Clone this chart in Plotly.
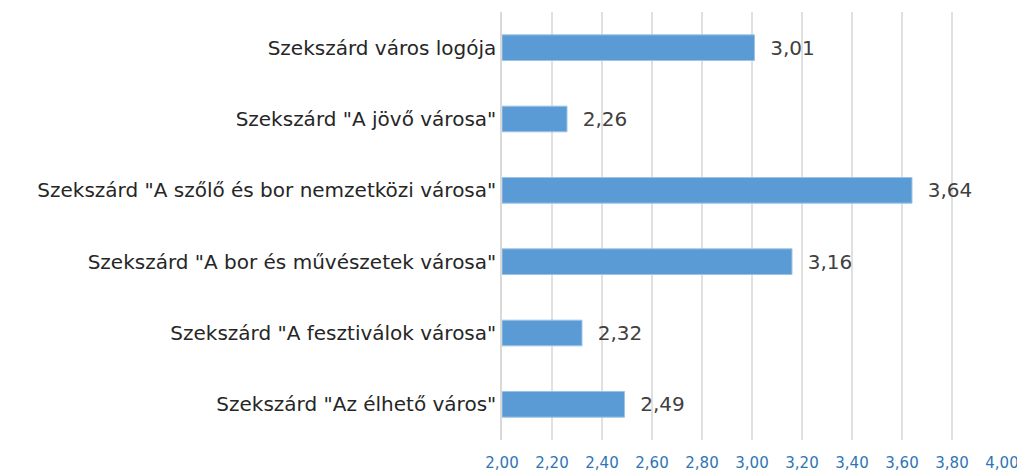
import plotly.graph_objects as go

categories = [
    'Szekszárd város logója',
    'Szekszárd "A jövő városa"',
    'Szekszárd "A szőlő és bor nemzetközi városa"',
    'Szekszárd "A bor és művészetek városa"',
    'Szekszárd "A fesztiválok városa"',
    'Szekszárd "Az élhető város"',
]
values = [3.01, 2.26, 3.64, 3.16, 2.32, 2.49]
tick_vals = [2.0, 2.2, 2.4, 2.6, 2.8, 3.0, 3.2, 3.4, 3.6, 3.8, 4.0]
axis_min = 2.0

fig = go.Figure(go.Bar(
    x=[v - axis_min for v in values],
    y=categories,
    orientation="h",
    base=axis_min,
    marker=dict(color="#5B9BD5", line=dict(color="#9DC3E6", width=1)),
    text=["\u00a0\u00a0" + f"{v:.2f}".replace(".", ",") for v in values],
    textposition="outside",
    textfont=dict(family="DejaVu Sans", size=20, color="#404040"),
    cliponaxis=False,
))

fig.update_layout(
    width=1017, height=466,
    margin=dict(l=494, r=23, t=4, b=34),
    paper_bgcolor="white", plot_bgcolor="white",
    separators=", ",
    bargap=0.64,
    showlegend=False,
    font=dict(family="DejaVu Sans"),
)
fig.update_xaxes(
    range=[2.0, 4.0],
    tickvals=tick_vals,
    tickformat=".2f",
    showgrid=True, gridcolor="#E0E0E0", gridwidth=1.5,
    zeroline=False, showline=False,
    tickfont=dict(family="DejaVu Sans", size=15, color="#2E75B6"),
    ticklabelstandoff=12,
    automargin=False,
)
fig.update_yaxes(
    categoryorder="array", categoryarray=categories[::-1],
    showline=True, linecolor="#D9D9D9", linewidth=1.5,
    showgrid=False,
    tickfont=dict(family="DejaVu Sans", size=20, color="#262626"),
    ticklabelstandoff=0,
    automargin=False,
)
fig.write_html("out.html")
